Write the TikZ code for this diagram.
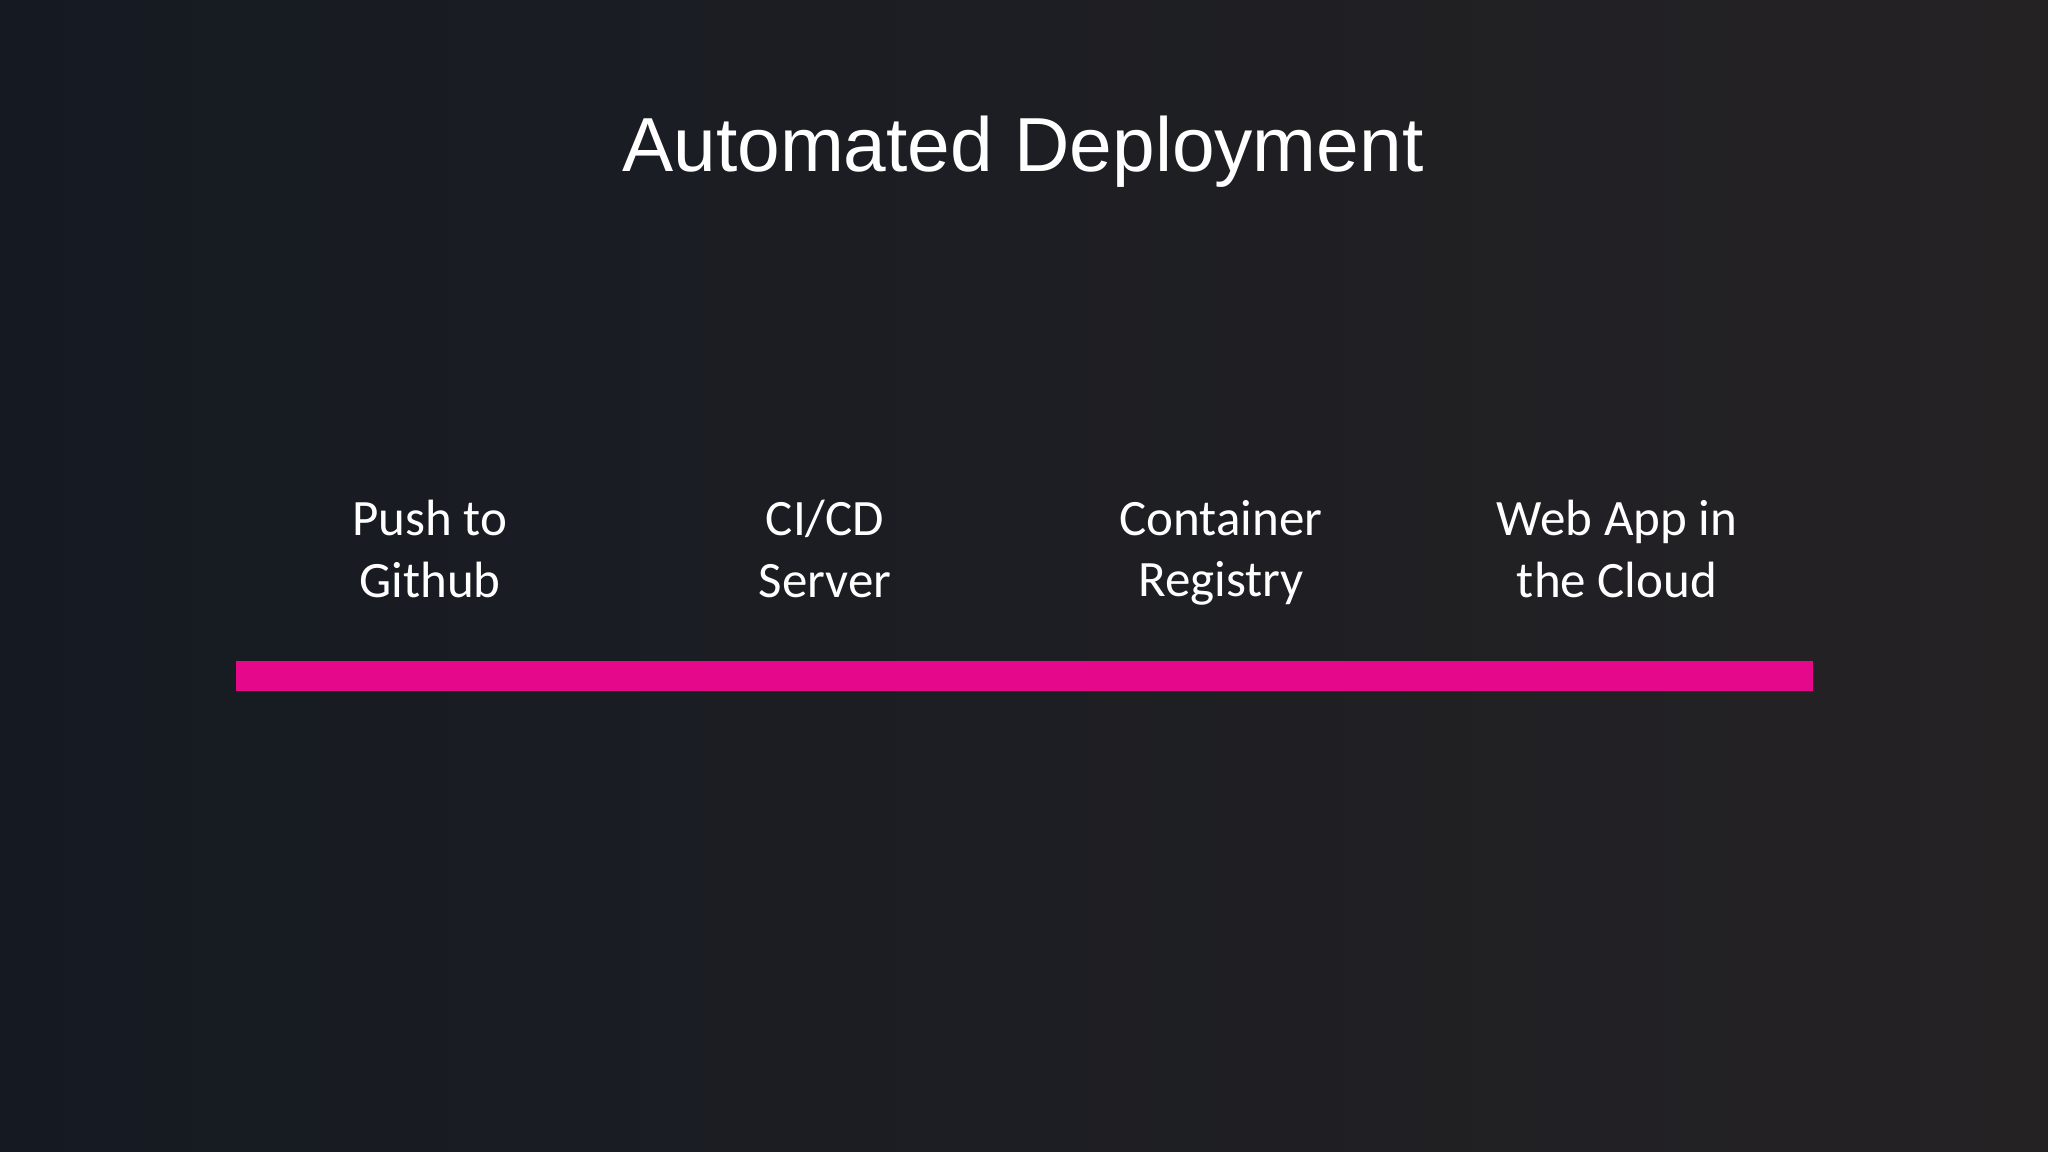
\documentclass[tikz,border=0pt]{standalone}
\usepackage{fontspec}
\setmainfont{Carlito}
\newfontfamily\titlefont{Liberation Sans}
\definecolor{bgl}{HTML}{151A22}
\definecolor{bgr}{HTML}{252224}
\definecolor{barpink}{HTML}{E5088A}
\tikzset{lbl/.style={text=white,align=center,font=\fontsize{14.5}{17.4}\selectfont,inner sep=0pt}}
\begin{document}
\begin{tikzpicture}[x=0.01cm,y=-0.01cm]
\useasboundingbox (0,0) rectangle (2048,1152);
\shade[left color=bgl,right color=bgr] (0,0) rectangle (2048,1152);
\node[text=white,font=\titlefont\fontsize{21.8}{26}\selectfont] (title) at (1023,152) {Automated Deployment};
\node[lbl] (a) at (430,549) {Push to\\Github};
\node[lbl] (b) at (825,549) {CI/CD\\Server};
\node[lbl] (c) at (1221,553) {Container\\Registry};
\node[lbl] (d) at (1617,549) {Web App in\\the Cloud};
\fill[barpink] (236,661) rectangle (1813,691);
\end{tikzpicture}
\end{document}
